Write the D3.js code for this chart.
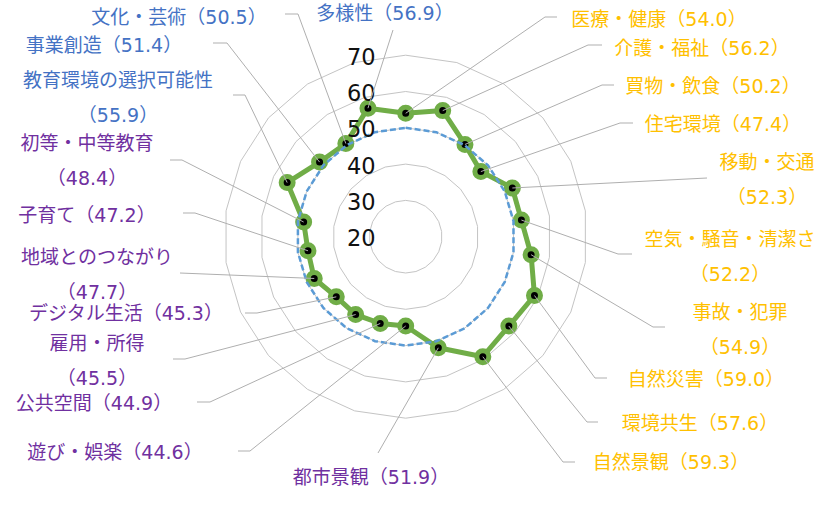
<!DOCTYPE html>
<html>
<head>
<meta charset="utf-8">
<script src="https://cdn.jsdelivr.net/npm/d3@7"></script>
<style>
  html, body { margin: 0; padding: 0; background: #fff; }
  svg { display: block; }
  .label { font-family: 'DejaVu Sans', 'Noto Sans CJK JP', sans-serif; font-size: 19px; }
  .tick { font-family: 'DejaVu Sans', sans-serif; font-size: 22.5px; fill: #111; }
</style>
</head>
<body>
<div id="chart"></div>
<script>
// Categories clockwise from the top axis.
const categories = [
  '医療・健康', '介護・福祉', '買物・飲食', '住宅環境', '移動・交通',
  '空気・騒音・清潔さ', '事故・犯罪', '自然災害', '環境共生', '自然景観',
  '都市景観', '遊び・娯楽', '公共空間', '雇用・所得', 'デジタル生活',
  '地域とのつながり', '子育て', '初等・中等教育', '教育環境の選択可能性',
  '事業創造', '文化・芸術', '多様性',
];
const scores = [
  54.0, 56.2, 50.2, 47.4, 52.3, 52.2, 54.9, 59.0, 57.6, 59.3,
  51.9, 44.6, 44.9, 45.5, 45.3, 47.7, 47.2, 48.4, 55.9, 51.4, 50.5, 56.9,
];
const baseline = categories.map(() => 50);
// Label group per category: 0 = living, 1 = society, 2 = innovation.
const groups = [0, 0, 0, 0, 0, 0, 0, 0, 0, 0, 1, 1, 1, 1, 1, 1, 1, 1, 2, 2, 2, 2];
const tickValues = [20, 30, 40, 50, 60, 70];

/**
 * Manual label placement (like the moved data labels of the original sheet):
 * x, y = centre of the first text line, wrap = value on a second line,
 * lx, ly = leader start, ex = leader elbow x.
 */
const labelLayout = [
  { x: 659, y: 19, lx: 557, ly: 17, ex: 545 },
  { x: 702, y: 48, lx: 602, ly: 45, ex: 588 },
  { x: 713, y: 86, lx: 614, ly: 85, ex: 602 },
  { x: 723, y: 124, lx: 633, ly: 123, ex: 620 },
  { x: 767, y: 162, wrap: true, lx: 707, ly: 178, ex: 707 },
  { x: 730, y: 239, wrap: true, lx: 632, ly: 254, ex: 618 },
  { x: 740, y: 312, wrap: true, lx: 665, ly: 327, ex: 653 },
  { x: 706, y: 379, lx: 607, ly: 378, ex: 595 },
  { x: 700, y: 423, lx: 598, ly: 422, ex: 587 },
  { x: 671, y: 462, lx: 575, ly: 462, ex: 563 },
  { x: 371, y: 477, lx: 378, ly: 453, ex: 378 },
  { x: 115, y: 452, lx: 238, ly: 451, ex: 250 },
  { x: 94, y: 403, lx: 197, ly: 402, ex: 210 },
  { x: 97, y: 343, wrap: true, lx: 173, ly: 359, ex: 185 },
  { x: 126, y: 313, lx: 245, ly: 313, ex: 257 },
  { x: 97, y: 257, wrap: true, lx: 180, ly: 273, ex: 180 },
  { x: 87, y: 215, lx: 183, ly: 213, ex: 195 },
  { x: 87, y: 143, wrap: true, lx: 170, ly: 160, ex: 182 },
  { x: 118, y: 80, wrap: true, lx: 233, ly: 95, ex: 245 },
  { x: 104, y: 45, lx: 213, ly: 43, ex: 227 },
  { x: 179, y: 17, lx: 285, ly: 14, ex: 298 },
  { x: 385, y: 13, lx: 393, ly: 30, ex: 393 },
];

const width = 833;
const height = 515;
const cx = 405.7;
const cy = 236.7;
const groupColors = ['#FFC000', '#7030A0', '#4472C4'];

const svg = d3.select('#chart').append('svg')
  .attr('width', width)
  .attr('height', height);

const r = d3.scaleLinear().domain([20, 70]).range([0, 181.5]);
const angle = d3.scaleLinear().domain([0, categories.length]).range([0, 2 * Math.PI]);

const g = svg.append('g').attr('transform', `translate(${cx},${cy})`);

const ringLine = d3.lineRadial()
  .angle((d, i) => angle(i))
  .radius(d => r(d))
  .curve(d3.curveLinearClosed);

// grid polygons
g.selectAll('path.ring')
  .data(tickValues.slice(1))
  .join('path')
  .attr('class', 'ring')
  .attr('d', v => ringLine(categories.map(() => v)))
  .attr('fill', 'none')
  .attr('stroke', '#C4C4C4')
  .attr('stroke-width', 1);

// main series
g.append('path')
  .attr('d', ringLine(scores))
  .attr('fill', 'none')
  .attr('stroke', '#70AD47')
  .attr('stroke-width', 5)
  .attr('stroke-linejoin', 'round');

const pointXY = function(v, i) {
  const a = angle(i);
  return [Math.sin(a) * r(v), -Math.cos(a) * r(v)];
};

g.selectAll('circle.marker')
  .data(scores)
  .join('circle')
  .attr('class', 'marker')
  .attr('cx', (d, i) => pointXY(d, i)[0])
  .attr('cy', (d, i) => pointXY(d, i)[1])
  .attr('r', 6)
  .attr('fill', '#000')
  .attr('stroke', '#70AD47')
  .attr('stroke-width', 5);

// reference series at 50
g.append('path')
  .attr('d', ringLine(baseline))
  .attr('fill', 'none')
  .attr('stroke', '#5B9BD5')
  .attr('stroke-width', 2.5)
  .attr('stroke-dasharray', '6,3');

// leader lines
svg.selectAll('path.leader')
  .data(labelLayout)
  .join('path')
  .attr('class', 'leader')
  .attr('d', (d, i) => {
    const p = pointXY(scores[i], i);
    return d3.line()([[d.lx, d.ly], [d.ex, d.ly], [cx + p[0], cy + p[1]]]);
  })
  .attr('fill', 'none')
  .attr('stroke', '#AFAFAF')
  .attr('stroke-width', 1);

// value axis labels
g.selectAll('text.tick')
  .data(tickValues)
  .join('text')
  .attr('class', 'tick')
  .attr('x', -30)
  .attr('y', v => -r(v) + 1.5)
  .attr('text-anchor', 'end')
  .attr('dominant-baseline', 'central')
  .text(v => v);

// category labels
const labels = svg.selectAll('text.label')
  .data(labelLayout)
  .join('text')
  .attr('class', 'label')
  .attr('text-anchor', 'middle')
  .attr('dominant-baseline', 'central')
  .attr('fill', (d, i) => groupColors[groups[i]]);

labels.each(function(d, i) {
  const t = d3.select(this);
  const val = `（${scores[i].toFixed(1)}）`;
  if (d.wrap) {
    t.append('tspan').attr('x', d.x).attr('y', d.y).text(categories[i]);
    t.append('tspan').attr('x', d.x).attr('y', d.y + 34.5).text(val);
  } else {
    t.append('tspan').attr('x', d.x).attr('y', d.y).text(categories[i] + val);
  }
});
</script>
</body>
</html>
